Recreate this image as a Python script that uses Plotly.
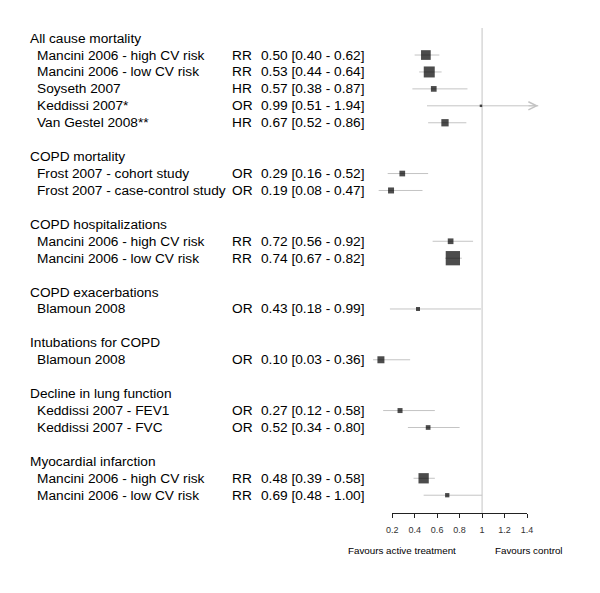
import plotly.graph_objects as go

# ---------------- data ----------------
group_names = ["All cause mortality", "COPD mortality", "COPD hospitalizations",
               "COPD exacerbations", "Intubations for COPD",
               "Decline in lung function", "Myocardial infarction"]
group_sizes = [5, 2, 2, 1, 1, 2, 2]

studies = ["Mancini 2006 - high CV risk", "Mancini 2006 - low CV risk", "Soyseth 2007",
           "Keddissi 2007*", "Van Gestel 2008**",
           "Frost 2007 - cohort study", "Frost 2007 - case-control study",
           "Mancini 2006 - high CV risk", "Mancini 2006 - low CV risk",
           "Blamoun 2008",
           "Blamoun 2008",
           "Keddissi 2007 - FEV1", "Keddissi 2007 - FVC",
           "Mancini 2006 - high CV risk", "Mancini 2006 - low CV risk"]
measures = ["RR", "RR", "HR", "OR", "HR", "OR", "OR", "RR", "RR", "OR", "OR", "OR", "OR", "RR", "RR"]
estimates = [0.50, 0.53, 0.57, 0.99, 0.67, 0.29, 0.19, 0.72, 0.74, 0.43, 0.10, 0.27, 0.52, 0.48, 0.69]
lower = [0.40, 0.44, 0.38, 0.51, 0.52, 0.16, 0.08, 0.56, 0.67, 0.18, 0.03, 0.12, 0.34, 0.39, 0.48]
upper = [0.62, 0.64, 0.87, 1.94, 0.86, 0.52, 0.47, 0.92, 0.82, 0.99, 0.36, 0.58, 0.80, 0.58, 1.00]
box_px = [9.7, 11, 5.7, 2.5, 7.3, 5.7, 6, 5.7, 14.3, 4, 7, 5, 4.7, 10.3, 4.3]

tick_vals = [0.2, 0.4, 0.6, 0.8, 1.0, 1.2, 1.4]
tick_text = ["0.2", "0.4", "0.6", "0.8", "1", "1.2", "1.4"]
x_max_display = 1.5
left_label = "Favours active treatment"
right_label = "Favours control"

# ---------------- geometry ----------------
W, H = 600, 593
X0, PXU = 371.1, 114.7          # pixel of value 0, pixels per unit
ROW0, ROWH = 38.1, 16.93        # pixel of row 0, pixels per row


def px2x(p):
    return (p - X0) / PXU


def py2row(p):
    return (p - ROW0) / ROWH


FONT = "Liberation Sans, Arial, Helvetica, sans-serif"
TXT = 13.7
GRAY = "#c4c4c4"

# build row layout
header_rows, study_rows = [], []
r = 0
for g, n in zip(group_names, group_sizes):
    header_rows.append(r)
    r += 1
    for _ in range(n):
        study_rows.append(r)
        r += 1
    r += 1
axis_row = py2row(513.3)

fig = go.Figure()

# reference line at 1
fig.add_trace(go.Scatter(x=[1, 1], y=[py2row(28), axis_row], mode="lines",
                         line=dict(color=GRAY, width=1), hoverinfo="skip", showlegend=False))

# CI lines
annotations = []
for i, row in enumerate(study_rows):
    hi = min(upper[i], x_max_display)
    fig.add_trace(go.Scatter(x=[lower[i], hi], y=[row, row], mode="lines",
                             line=dict(color=GRAY, width=1), hoverinfo="skip", showlegend=False))
    if upper[i] > x_max_display:
        annotations.append(dict(x=x_max_display, y=row, ax=x_max_display - 0.1, ay=row,
                                xref="x", yref="y", axref="x", ayref="y", text="",
                                showarrow=True, arrowhead=5, arrowsize=1.6, arrowwidth=1,
                                arrowcolor=GRAY))

# boxes
fig.add_trace(go.Scatter(x=estimates, y=study_rows, mode="markers",
                         marker=dict(symbol="square", size=box_px, color="black",
                                     line=dict(width=0)),
                         hoverinfo="skip", showlegend=False))

# dummy trace for the value axis
fig.add_trace(go.Scatter(x=[tick_vals[0], tick_vals[-1]], y=[axis_row, axis_row],
                         xaxis="x2", yaxis="y", mode="markers",
                         marker=dict(opacity=0), hoverinfo="skip", showlegend=False))

# text columns
x_head = px2x(22.3)
x_name = px2x(30.0)
x_meas = px2x(229.0)
x_est = px2x(258.3)
for g, row in zip(group_names, header_rows):
    annotations.append(dict(x=x_head, y=row, xref="x", yref="y", text=g, showarrow=False,
                            xanchor="left", yanchor="middle",
                            font=dict(family=FONT, size=TXT, color="black")))
for i, row in enumerate(study_rows):
    est_txt = f"{estimates[i]:.2f} [{lower[i]:.2f} - {upper[i]:.2f}]"
    for xx, t in ((x_name, studies[i]), (x_meas, measures[i]), (x_est, est_txt)):
        annotations.append(dict(x=xx, y=row, xref="x", yref="y", text=t, showarrow=False,
                                xanchor="left", yanchor="middle",
                                font=dict(family=FONT, size=TXT, color="black")))

lab_row = py2row(550.7)
annotations.append(dict(x=px2x(403.9), y=lab_row, xref="x", yref="y", text=left_label,
                        showarrow=False, xanchor="center", yanchor="middle",
                        font=dict(family=FONT, size=9.8, color="black")))
annotations.append(dict(x=px2x(533.3), y=lab_row, xref="x", yref="y", text=right_label,
                        showarrow=False, xanchor="center", yanchor="middle",
                        font=dict(family=FONT, size=9.8, color="black")))

fig.update_layout(
    width=W, height=H,
    margin=dict(l=0, r=0, t=0, b=0),
    paper_bgcolor="white", plot_bgcolor="rgba(0,0,0,0)",
    showlegend=False,
    annotations=annotations,
    xaxis=dict(range=[px2x(0), px2x(W)], visible=False, fixedrange=True),
    yaxis=dict(range=[py2row(H), py2row(0)], visible=False, fixedrange=True),
    xaxis2=dict(domain=[(X0 + tick_vals[0] * PXU) / W, (X0 + tick_vals[-1] * PXU) / W],
                range=[tick_vals[0], tick_vals[-1]], anchor="free",
                position=1 - 513.3 / H, showline=True, linecolor="#222", linewidth=1,
                ticks="outside", ticklen=4, tickcolor="#222", tickwidth=1,
                tickvals=tick_vals, ticktext=tick_text, showgrid=False, zeroline=False,
                ticklabelstandoff=4,
                tickfont=dict(family=FONT, size=9, color="#333"), fixedrange=True),
)

fig.write_html("out.html", config={"displayModeBar": False},
               post_script="document.body.style.margin='0';document.body.style.overflow='hidden';")
